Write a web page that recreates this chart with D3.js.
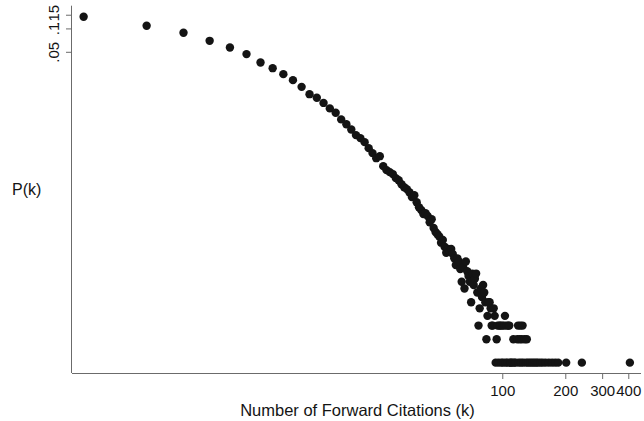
<!DOCTYPE html>
<html>
<head>
<meta charset="utf-8">
<script src="https://cdn.jsdelivr.net/npm/d3@7"></script>
<style>
  html, body { margin: 0; padding: 0; background: #ffffff; }
  svg { display: block; font-family: "Liberation Sans", Arial, sans-serif; }
</style>
</head>
<body>
<svg id="chart" width="644" height="421"></svg>
<script>
// Forward-citation distribution: number of patents receiving k citations
const totalPatents = 200000;

const citationsK = [
  1, 2, 3, 4, 5, 6, 7, 8, 9, 10,
  11, 12, 13, 14, 15, 16, 17, 18, 19, 20,
  21, 22, 23, 24, 25, 26, 27, 28, 29, 30,
  31, 32, 33, 34, 35, 36, 37, 38, 39, 40,
  41, 42, 43, 44, 45, 46, 47, 48, 49, 50,
  51, 52, 53, 54, 55, 56, 57, 58, 59, 60,
  61, 62, 63, 64, 65, 66, 67, 68, 69, 70,
  71, 72, 73, 74, 75, 76, 77, 78, 79, 80,
  81, 82, 83, 84, 85, 86, 87, 88, 89, 90,
  91, 92, 93, 94, 95, 96, 97, 98, 99, 100,
  101, 102, 103, 104, 105, 106, 107, 108, 109, 110,
  112, 113, 114, 116, 118, 119, 120, 121, 122, 123,
  124, 125, 126, 128, 130, 131, 133, 136, 139, 142,
  145, 148, 152, 156, 161, 167, 173, 179, 185, 202,
  240, 407
];

const patentCounts = [
  28200, 21600, 17560, 13840, 11380, 9340, 7300, 6160, 5160, 4320,
  3540, 2850, 2560, 2200, 1870, 1640, 1350, 1170, 1000, 847,
  775, 688, 576, 497, 428, 454, 338, 300, 283, 267,
  237, 223, 198, 181, 171, 156, 135, 143, 116, 100,
  92, 82, 84, 77, 64, 70, 54, 48, 45, 42,
  35, 38, 31, 26, 29, 27, 29, 25, 22, 18,
  22, 20, 16, 11, 17, 9, 20, 15, 13, 11,
  6, 14, 10, 12, 14, 8, 3, 5, 9, 7,
  10, 8, 6, 2, 4, 6, 6, 5, 3, 3,
  5, 4, 1, 2, 3, 1, 3, 3, 1, 3,
  1, 3, 4, 1, 3, 1, 3, 3, 1, 1,
  1, 2, 1, 1, 2, 3, 1, 2, 3, 1,
  2, 3, 1, 2, 1, 2, 1, 1, 1, 1,
  1, 1, 1, 1, 1, 1, 1, 1, 1, 1,
  1, 1
];

const xTickValues = [100, 200, 300, 400];
const yTickValues = [0.05, 0.1, 0.15];
const yTickLabels = [".05", ".1", ".15"];

const xTitle = "Number of Forward Citations (k)";
const yTitle = "P(k)";

const points = citationsK.map((k, i) => ({ k, p: patentCounts[i] / totalPatents }));

const svg = d3.select("#chart");
const axisColor = "#6b6b6b";
const inkColor = "#141414";
const fontStack = "Liberation Sans, Arial, sans-serif";

// plot frame
const frame = { left: 72, right: 641, top: 5.7, bottom: 373 };

const x = d3.scaleLog().domain([0.88, 460]).range([frame.left, frame.right]);
const y = d3.scaleLog().domain([0.196, 3.68e-6]).range([frame.top, frame.bottom]);

// x axis
const xAxis = svg.append("g")
  .attr("transform", `translate(0,${frame.bottom})`)
  .call(d3.axisBottom(x).tickValues(xTickValues).tickFormat(d3.format("d")).tickSize(6).tickSizeOuter(0));
xAxis.select(".domain").attr("stroke", axisColor).attr("d", `M${frame.left},0.5H${frame.right}`);
xAxis.selectAll(".tick line").attr("stroke", axisColor);
xAxis.selectAll(".tick text")
  .attr("fill", inkColor)
  .attr("font-size", 15)
  .attr("font-family", fontStack)
  .attr("y", 23)
  .attr("dy", null);

// y axis
const yAxis = svg.append("g")
  .attr("transform", `translate(${frame.left},0)`)
  .call(d3.axisLeft(y).tickValues(yTickValues)
    .tickFormat((d, i) => yTickLabels[i]).tickSize(6).tickSizeOuter(0));
yAxis.select(".domain").attr("stroke", axisColor).attr("d", `M-0.5,${frame.top}V${frame.bottom}`);
yAxis.selectAll(".tick line").attr("stroke", axisColor);
yAxis.selectAll(".tick text")
  .attr("fill", inkColor)
  .attr("font-size", 15)
  .attr("font-family", fontStack)
  .attr("x", null).attr("dy", null)
  .attr("text-anchor", "middle")
  .attr("transform", "translate(-13.5,0) rotate(-90)");

// titles
svg.append("text")
  .attr("x", (frame.left + frame.right) / 2 + 1)
  .attr("y", 416)
  .attr("text-anchor", "middle")
  .attr("font-size", 16.5)
  .attr("fill", inkColor)
  .text(xTitle);

svg.append("text")
  .attr("x", 12)
  .attr("y", 195)
  .attr("font-size", 16)
  .attr("fill", inkColor)
  .text(yTitle);

// markers
svg.append("g")
  .selectAll("circle")
  .data(points)
  .join("circle")
  .attr("cx", d => x(d.k))
  .attr("cy", d => y(d.p))
  .attr("r", 4.2)
  .attr("fill", inkColor);
</script>
</body>
</html>
